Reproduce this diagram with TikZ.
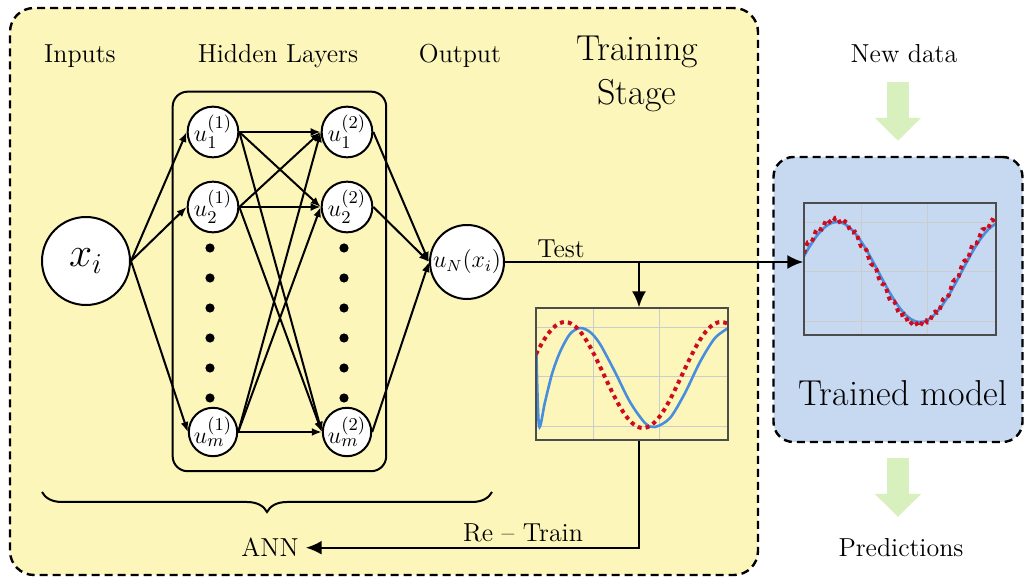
\documentclass[tikz,border=0pt]{standalone}
\usepackage{amsmath,amssymb}
\usepackage{tikz}
\usetikzlibrary{arrows.meta,fit,decorations.pathreplacing}

\definecolor{stageyellow}{RGB}{252,246,186}
\definecolor{modelblue}{RGB}{198,217,241}
\definecolor{arrowgreen}{RGB}{216,240,190}
\definecolor{curveblue}{RGB}{72,142,222}
\definecolor{curvered}{RGB}{205,12,32}

\begin{document}
\begin{tikzpicture}[x=0.5pt, y=-0.5pt,
    neuron/.style={draw, circle, fill=white, line width=1pt, inner sep=0pt,
                   minimum size=23pt, font=\fontsize{13}{15}\selectfont},
    link/.style={-{Latex[length=5pt,width=4pt]}, line width=1pt},
    flow/.style={-{Latex[length=8pt,width=7pt]}, line width=1.2pt},
    stagebox/.style={draw, line width=1.2pt, dash pattern=on 4pt off 2.5pt},
    heading/.style={font=\fontsize{13}{15}\selectfont, anchor=base},
    bigtext/.style={font=\fontsize{18}{22}\selectfont, align=center, anchor=base},
    plotframe/.style={draw=black!70, line width=0.6pt, minimum width=96pt,
                      minimum height=66pt, inner sep=0pt},
    gridline/.style={black!20, line width=0.5pt},
    fitline/.style={curveblue, line width=1.3pt},
    datadots/.style={curvered, line width=2pt, dash pattern=on 2pt off 2pt},
    bigarrow/.style={arrowgreen, line width=11pt, -{Triangle[width=22.5pt,length=11.5pt]}},
]
\useasboundingbox (0,0) rectangle (1025,577);

\node[stagebox, fill=stageyellow, rounded corners=12pt, minimum width=374pt,
      minimum height=283.5pt] (train) at (384,291.5) {};
\node[stagebox, fill=modelblue, rounded corners=10pt, minimum width=124.5pt,
      minimum height=142.5pt] (model) at (898,299.5) {};

\node[heading] (inputs) at (80,63) {Inputs};
\node[heading] (hidden) at (278,63) {Hidden Layers};
\node[heading] (output) at (460,63) {Output};
\node[bigtext, anchor=center] (stage) at (637,74) {Training\\Stage};
\node[heading] (newdata) at (904,63) {New data};
\node[bigtext] (trained) at (903,406) {Trained model};
\node[heading] (pred) at (901,557) {Predictions};

\node[neuron, minimum size=44pt, font=\fontsize{20}{24}\selectfont] (xi) at (86,261) {$x_i$};
\node[neuron] (u11) at (213,132) {$u_1^{(1)}$};
\node[neuron] (u21) at (213,207) {$u_2^{(1)}$};
\node[neuron] (um1) at (213,432) {$u_m^{(1)}$};
\node[neuron] (u12) at (347,132) {$u_1^{(2)}$};
\node[neuron] (u22) at (347,207) {$u_2^{(2)}$};
\node[neuron] (um2) at (347,432) {$u_m^{(2)}$};
\node[neuron, minimum size=37pt, font=\fontsize{12}{14}\selectfont] (uN) at (467,262) {$u_N(x_i)$};
\node[draw, line width=1pt, rounded corners=7.5pt, inner sep=7pt, fit=(u11)(um2)] (hidbox) {};

\foreach \y in {248,278,...,398} {
  \fill (210,\y) circle (2.3pt);
  \fill (344,\y) circle (2.3pt);
}

\draw[link] (xi.east) -- (u11.west);
\draw[link] (xi.east) -- (u21.west);
\draw[link] (xi.east) -- (um1.west);
\draw[link] (u11.east) -- (u12.west);
\draw[link] (u11.east) -- (u22.west);
\draw[link] (u11.east) -- (um2.west);
\draw[link] (u21.east) -- (u12.west);
\draw[link] (u21.east) -- (u22.west);
\draw[link] (u21.east) -- (um2.west);
\draw[link] (um1.east) -- (u12.west);
\draw[link] (um1.east) -- (u22.west);
\draw[link] (um1.east) -- (um2.west);
\draw[link] (u12.east) -- (uN.west);
\draw[link] (u22.east) -- (uN.west);
\draw[link] (um2.east) -- (uN.west);

\draw[decorate, decoration={brace, mirror, amplitude=10pt}, line width=1pt] (42,492) -- (492,492);
\node[heading] (ann) at (270,557) {ANN};

% test plot
\draw[gridline] (593,308) -- (593,440) (659,308) -- (659,440)
  (536,328) -- (728,328) (536,377) -- (728,377) (536,427) -- (728,427);
\begin{scope}
  \clip (536,308) rectangle (728,440);
  \draw[fitline] plot[smooth] coordinates {(536.5,355) (539,426) (545,402) (552,374)
    (560,352) (570,334) (580,328) (590,332) (600,344) (615,372) (630,402) (645,423)
    (655,427) (670,418) (685,393) (700,362) (715,338) (730,327)};
  \draw[datadots] plot[domain=536:730, samples=90] (\x, {375-53*cos(2.3077*(\x-565))});
\end{scope}
\node[plotframe] (plot1) at (632,374) {};

% model plot
\draw[gridline] (861,203) -- (861,335) (927,203) -- (927,335)
  (804,223) -- (996,223) (804,272) -- (996,272) (804,322) -- (996,322);
\begin{scope}
  \clip (804,203) rectangle (996,335);
  \draw[fitline] plot[domain=804:996, samples=80] (\x, {272-50*cos(2.1687*(\x-837))});
  \draw[datadots] plot[domain=804:998, samples=100] (\x, {272-52*cos(2.1687*(\x-835))+3*sin(37*(\x-800))});
\end{scope}
\node[plotframe] (plot2) at (900,269) {};

\coordinate (branch) at (639,262);
\draw[flow] (uN.east) -- (uN.east -| plot2.west);
\node[heading] (test) at (561,258) {Test};
\draw[flow] (branch) -- (branch |- plot1.north);
\draw[flow] (branch |- plot1.south) |- (ann.east);
\node[heading] (retrain) at (523,542) {Re -- Train};

\draw[bigarrow, shorten <=6pt, shorten >=7.5pt] (model.north |- newdata.south) -- (model.north);
\draw[bigarrow, shorten <=7.5pt, shorten >=7.5pt] (model.south) -- (model.south |- pred.north);
\end{tikzpicture}
\end{document}
